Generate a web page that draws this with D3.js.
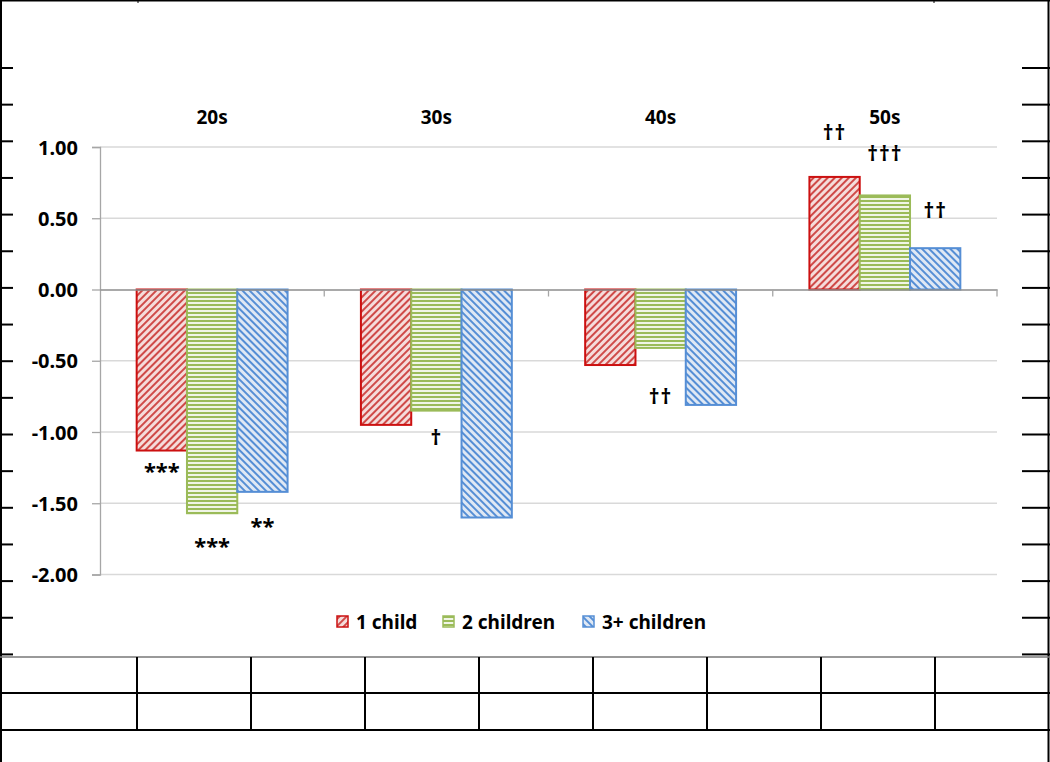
<!DOCTYPE html>
<html>
<head>
<meta charset="utf-8">
<script src="https://cdn.jsdelivr.net/npm/d3@7"></script>
<style>
  html, body { margin: 0; padding: 0; background: #fff; }
  svg { display: block; }
  text { font-family: "Noto Sans", "DejaVu Sans", sans-serif; font-weight: bold; fill: #000; }
</style>
</head>
<body>
<svg id="chart" width="1050" height="762"></svg>
<script>
// ---------- data ----------
const categories = ["20s", "30s", "40s", "50s"];
const seriesNames = ["1 child", "2 children", "3+ children"];
const values1child = [-1.13, -0.95, -0.53, 0.79];
const values2children = [-1.57, -0.85, -0.41, 0.66];
const values3children = [-1.42, -1.60, -0.81, 0.29];
const yTickValues = [1.0, 0.5, 0.0, -0.5, -1.0, -1.5, -2.0];
const yTickLabels = ["1.00", "0.50", "0.00", "-0.50", "-1.00", "-1.50", "-2.00"];
// significance marks per series (one per category) and the level (in data units) where each is written
const marks1child = ["***", "", "", "††"];
const marks2children = ["***", "†", "††", "†††"];
const marks3children = ["**", "", "", "††"];
const markLevels1child = [-1.24, null, null, 1.10];
const markLevels2children = [-1.76, -1.04, -0.75, 0.95];
const markLevels3children = [-1.62, null, null, 0.55];

const seriesValues = [values1child, values2children, values3children];
const seriesMarks = [marks1child, marks2children, marks3children];
const seriesMarkLevels = [markLevels1child, markLevels2children, markLevels3children];

// ---------- styles ----------
const W = 1050, H = 762;
const plot = { left: 100, right: 997, top: 147, bottom: 574.5 };
const colors = [
  { border: "#cc1010", line: "#cf4a48", bg: "#f5dcdb" },
  { border: "#9bbb59", line: "#9bbb59", bg: "#f0f5e6" },
  { border: "#558ed5", line: "#558ed5", bg: "#dfe8f4" }
];

const svg = d3.select("#chart");
const defs = svg.append("defs");

// patterns
const p0 = defs.append("pattern").attr("id", "pat0").attr("patternUnits", "userSpaceOnUse")
  .attr("width", 5).attr("height", 5).attr("patternTransform", "rotate(45)");
p0.append("rect").attr("width", 5).attr("height", 5).attr("fill", colors[0].bg);
p0.append("rect").attr("x", 0).attr("width", 2).attr("height", 5).attr("fill", colors[0].line);
const p1 = defs.append("pattern").attr("id", "pat1").attr("patternUnits", "userSpaceOnUse")
  .attr("width", 4).attr("height", 4);
p1.append("rect").attr("width", 4).attr("height", 4).attr("fill", colors[1].bg);
p1.append("rect").attr("y", 0).attr("width", 4).attr("height", 2).attr("fill", colors[1].line);
const p2 = defs.append("pattern").attr("id", "pat2").attr("patternUnits", "userSpaceOnUse")
  .attr("width", 5).attr("height", 5).attr("patternTransform", "rotate(-45)");
p2.append("rect").attr("width", 5).attr("height", 5).attr("fill", colors[2].bg);
p2.append("rect").attr("x", 0).attr("width", 2).attr("height", 5).attr("fill", colors[2].line);

// ---------- frame ----------
const frame = svg.append("g");
frame.append("line").attr("x1", 0).attr("x2", W).attr("y1", 0.5).attr("y2", 0.5).attr("stroke", "#000").attr("stroke-width", 2);
frame.append("line").attr("x1", 1).attr("x2", 1).attr("y1", 0).attr("y2", H).attr("stroke", "#000").attr("stroke-width", 2);
frame.append("line").attr("x1", 1048.5).attr("x2", 1048.5).attr("y1", 0).attr("y2", H).attr("stroke", "#000").attr("stroke-width", 2);
const sideTicks = d3.range(17).map(k => 68 + k * 36.65);
frame.selectAll(".lt").data(sideTicks).join("line")
  .attr("x1", 0).attr("x2", 13).attr("y1", d => d).attr("y2", d => d).attr("stroke", "#000").attr("stroke-width", 2);
frame.selectAll(".rt").data(sideTicks).join("line")
  .attr("x1", 1022).attr("x2", 1050).attr("y1", d => d).attr("y2", d => d).attr("stroke", "#000").attr("stroke-width", 2);
const colLines = d3.range(8).map(k => 137 + k * 114);
frame.append("line").attr("x1", 0).attr("x2", W).attr("y1", 657).attr("y2", 657).attr("stroke", "#777").attr("stroke-width", 1.5);
frame.append("line").attr("x1", 0).attr("x2", W).attr("y1", 693).attr("y2", 693).attr("stroke", "#000").attr("stroke-width", 2);
frame.append("line").attr("x1", 0).attr("x2", W).attr("y1", 730).attr("y2", 730).attr("stroke", "#000").attr("stroke-width", 2);
frame.selectAll(".cl").data(colLines).join("line")
  .attr("x1", d => d).attr("x2", d => d).attr("y1", 657).attr("y2", 730).attr("stroke", "#000").attr("stroke-width", 2);
frame.selectAll(".tt").data([138, 934]).join("line")
  .attr("x1", d => d).attr("x2", d => d).attr("y1", 0).attr("y2", 3).attr("stroke", "#000").attr("stroke-width", 1);

// ---------- scales ----------
const y = d3.scaleLinear().domain([-2, 1]).range([plot.bottom, plot.top]);
const x0 = d3.scaleBand().domain(categories).range([plot.left, plot.right]).paddingInner(0).paddingOuter(0);
const x1 = d3.scaleBand().domain(seriesNames).range([0, x0.bandwidth()]).paddingInner(0).paddingOuter(0.729);

// gridlines
const g = svg.append("g");
g.selectAll(".grid").data(yTickValues.filter(v => v !== 0)).join("line")
  .attr("x1", plot.left).attr("x2", plot.right)
  .attr("y1", d => y(d)).attr("y2", d => y(d))
  .attr("stroke", "#d9d9d9").attr("stroke-width", 1.3);

// y axis
const yAxis = d3.axisLeft(y).tickValues(yTickValues).tickSize(8).tickPadding(14)
  .tickFormat((d, i) => yTickLabels[i]);
const ya = svg.append("g").attr("transform", `translate(${plot.left},0)`).call(yAxis);
ya.select(".domain").attr("stroke", "#a6a6a6").attr("stroke-width", 1.3);
ya.selectAll(".tick line").attr("stroke", "#a6a6a6").attr("stroke-width", 1.3);
ya.selectAll(".tick text").attr("font-size", "20px").attr("font-family", "Noto Sans").attr("font-weight", "bold").attr("fill", "#000").attr("dy", "0.35em");

// bars
const bars = svg.append("g");
seriesNames.forEach((s, si) => {
  bars.selectAll(".bar" + si).data(categories.map((c, ci) => ({ c, v: seriesValues[si][ci] }))).join("rect")
    .attr("x", d => x0(d.c) + x1(s))
    .attr("width", x1.bandwidth())
    .attr("y", d => y(Math.max(0, d.v)))
    .attr("height", d => Math.abs(y(d.v) - y(0)))
    .attr("fill", `url(#pat${si})`)
    .attr("stroke", colors[si].border)
    .attr("stroke-width", 2);
});

// zero axis line and category ticks
const xAxis = d3.axisBottom(x0).tickSize(0).tickFormat("");
const xa = svg.append("g").attr("transform", `translate(0,${y(0)})`).call(xAxis);
xa.select(".domain").attr("stroke", "#8c8c8c").attr("stroke-width", 1.3);
const boundaries = categories.map(c => x0(c) + x0.bandwidth());
svg.selectAll(".ct").data(boundaries).join("line")
  .attr("x1", d => d).attr("x2", d => d).attr("y1", y(0)).attr("y2", y(0) + 7)
  .attr("stroke", "#a6a6a6").attr("stroke-width", 1.3);

// category labels
svg.selectAll(".cat").data(categories).join("text")
  .attr("x", d => x0(d) + x0.bandwidth() / 2)
  .attr("y", 117).attr("dy", "0.35em")
  .attr("text-anchor", "middle").attr("font-size", "19px")
  .text(d => d);

// significance marks
seriesNames.forEach((s, si) => {
  const items = categories.map((c, ci) => ({ c, m: seriesMarks[si][ci], lv: seriesMarkLevels[si][ci] }))
    .filter(d => d.m !== "");
  svg.selectAll(".mk" + si).data(items).join("text")
    .attr("x", d => x0(d.c) + x1(s) + x1.bandwidth() / 2)
    .attr("y", d => y(d.lv)).attr("dy", d => d.m.includes("*") ? "0.6em" : "0.35em")
    .attr("text-anchor", "middle").attr("font-size", d => d.m.includes("*") ? "22px" : "21px")
    .attr("letter-spacing", d => d.m.includes("*") ? "0px" : "1px")
    .text(d => d.m);
});

// legend
const legendX = [336, 442, 582];
const lg = svg.append("g");
seriesNames.forEach((s, si) => {
  lg.append("rect").attr("x", legendX[si] + 1).attr("y", 616).attr("width", 11).attr("height", 11)
    .attr("fill", `url(#pat${si})`).attr("stroke", colors[si].border).attr("stroke-width", 1.5);
  lg.append("text").attr("x", legendX[si] + 20).attr("y", 622).attr("dy", "0.35em")
    .attr("font-size", "19px").text(s);
});
</script>
</body>
</html>
